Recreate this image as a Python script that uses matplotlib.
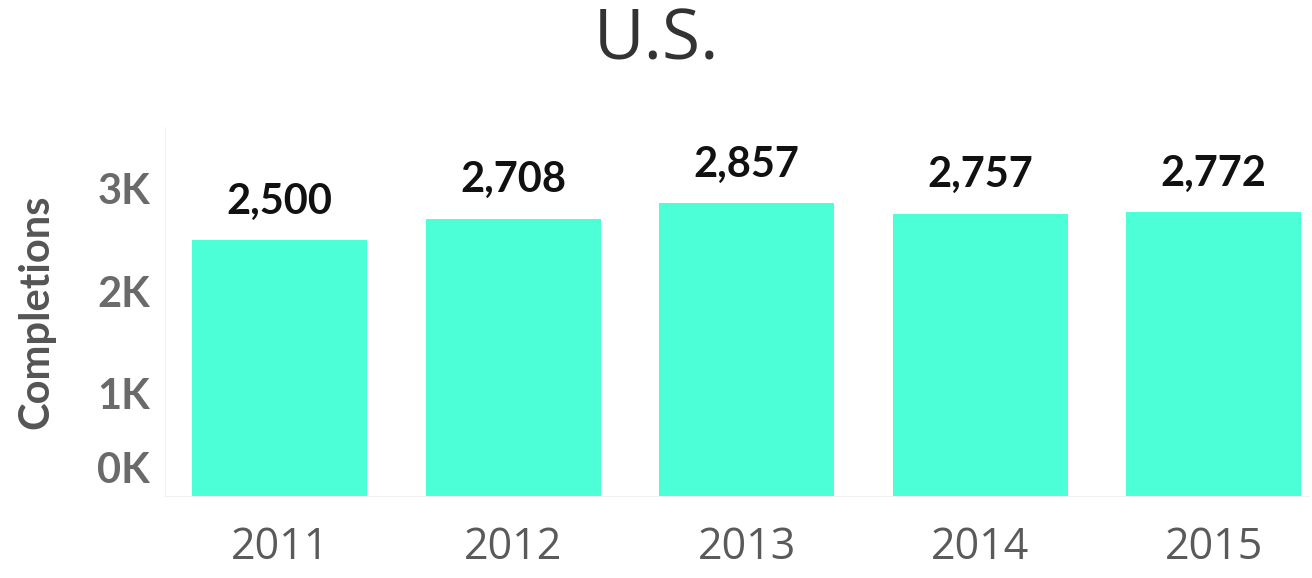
import matplotlib.pyplot as plt
from matplotlib.transforms import ScaledTranslation

years = ['2011', '2012', '2013', '2014', '2015']
completions = [2500, 2708, 2857, 2757, 2772]
yticks = [0, 1000, 2000, 3000]
ytick_labels = ['0K', '1K', '2K', '3K']

fig = plt.figure(figsize=(13.12, 5.78), dpi=100)
ax = fig.add_axes([0.126, 0.142, 0.872, 0.638])

x = range(len(years))
ax.bar(x, completions, width=0.75, color='#4DFFD7')

for xi, v in zip(x, completions):
    ax.annotate(f'{v:,}', (xi, v), xytext=(0, 19), textcoords='offset points',
                ha='center', va='baseline', fontsize=30, fontweight='bold',
                color='#111111', family='Lato')

ax.set_xlim(-0.49, 4.41)
ax.set_ylim(0, 3600)
ax.set_xticks(list(x))
ax.set_xticklabels(years, fontsize=31, color='#5a5a5a', family='Open Sans')
ax.set_yticks(yticks)
ax.set_yticklabels(ytick_labels, fontsize=30, fontweight='bold', color='#6a6a6a', family='Lato')
ax.tick_params(axis='both', length=0)
ax.tick_params(axis='x', pad=21)
ax.tick_params(axis='y', pad=11)

# tableau-style: the 0K label sits above the baseline
lbl0 = ax.get_yticklabels()[0]
lbl0.set_transform(lbl0.get_transform() + ScaledTranslation(0, 28 / 100, fig.dpi_scale_trans))

ax.set_ylabel('Completions', fontsize=30, fontweight='bold', color='#555555',
              family='Lato', labelpad=30)

for side in ['top', 'right']:
    ax.spines[side].set_visible(False)
ax.spines['left'].set_color('#f2f2f2')
ax.spines['bottom'].set_color('#f2f2f2')

fig.text(0.5, 0.929, 'U.S.', ha='center', va='center', fontsize=50,
         color='#333333', family='Open Sans')

fig.savefig('out.png', dpi=100)
